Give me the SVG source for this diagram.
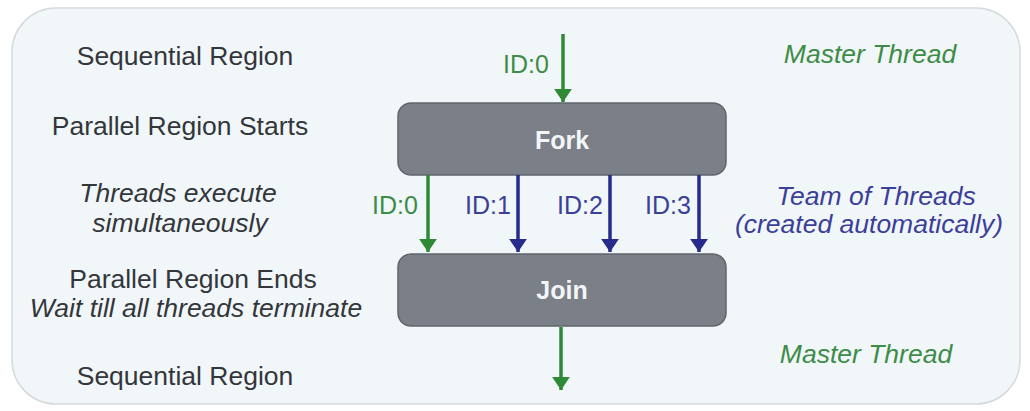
<svg xmlns="http://www.w3.org/2000/svg" width="1030" height="411" viewBox="0 0 1030 411">
<style>
.t{font-family:"Liberation Sans",Arial,sans-serif;font-size:26.5px;fill:#33363b;text-anchor:middle}
.i{font-style:italic}
.g{fill:#3d8c48}
.b{fill:#3b3f9a}
.id{font-size:25px}
.box{fill:#7a7f88;stroke:#60656c;stroke-width:1.5}
.bt{font-family:"Liberation Sans",Arial,sans-serif;font-size:25px;font-weight:bold;fill:#f4f5f7;text-anchor:middle}
.lg{stroke:#2f8a36;stroke-width:3.5;fill:none}
.lb{stroke:#262b8c;stroke-width:3.5;fill:none}
</style>
<defs>
<marker id="ag" markerWidth="4" markerHeight="6" refX="3.8" refY="2.6" orient="auto" markerUnits="strokeWidth"><path d="M0,0 L3.8,2.6 L0,5.2 z" fill="#2f8a36"/></marker>
<marker id="ab" markerWidth="4" markerHeight="6" refX="3.8" refY="2.6" orient="auto" markerUnits="strokeWidth"><path d="M0,0 L3.8,2.6 L0,5.2 z" fill="#262b8c"/></marker>
</defs>
<rect x="0" y="0" width="1030" height="411" fill="#ffffff"/>
<rect id="frame" x="12" y="8" width="1008" height="396" rx="44" fill="#f1f6f9" stroke="#d6dadd" stroke-width="1.5"/>
<g id="labels-left">
<text class="t" x="185" y="65">Sequential Region</text>
<text class="t" x="180" y="135">Parallel Region Starts</text>
<text class="t i" x="178" y="202">Threads execute</text>
<text class="t i" x="180" y="232">simultaneously</text>
<text class="t" x="193" y="288">Parallel Region Ends</text>
<text class="t i" x="196" y="317">Wait till all threads terminate</text>
<text class="t" x="185" y="385">Sequential Region</text>
</g>
<g id="labels-right">
<text class="t i g" x="870" y="63">Master Thread</text>
<text class="t i b" x="876" y="205">Team of Threads</text>
<text class="t i b" x="869" y="233">(created automatically)</text>
<text class="t i g" x="866" y="363">Master Thread</text>
</g>
<g id="fork"><rect class="box" x="398" y="103" width="328" height="72" rx="13"/><text class="bt" x="562" y="149">Fork</text></g>
<g id="join"><rect class="box" x="398" y="254" width="328" height="72" rx="13"/><text class="bt" x="562" y="299">Join</text></g>
<g id="connectors">
<line class="lg" x1="563" y1="34" x2="563" y2="102" marker-end="url(#ag)"/>
<line class="lg" x1="428" y1="175" x2="428" y2="252" marker-end="url(#ag)"/>
<line class="lb" x1="518" y1="175" x2="518" y2="252" marker-end="url(#ab)"/>
<line class="lb" x1="610" y1="175" x2="610" y2="252" marker-end="url(#ab)"/>
<line class="lb" x1="699" y1="175" x2="699" y2="252" marker-end="url(#ab)"/>
<line class="lg" x1="561" y1="327" x2="561" y2="390" marker-end="url(#ag)"/>
<text class="t id g" x="526" y="73">ID:0</text>
<text class="t id g" x="395" y="214">ID:0</text>
<text class="t id b" x="488" y="214">ID:1</text>
<text class="t id b" x="580" y="214">ID:2</text>
<text class="t id b" x="668" y="214">ID:3</text>
</g>
</svg>
